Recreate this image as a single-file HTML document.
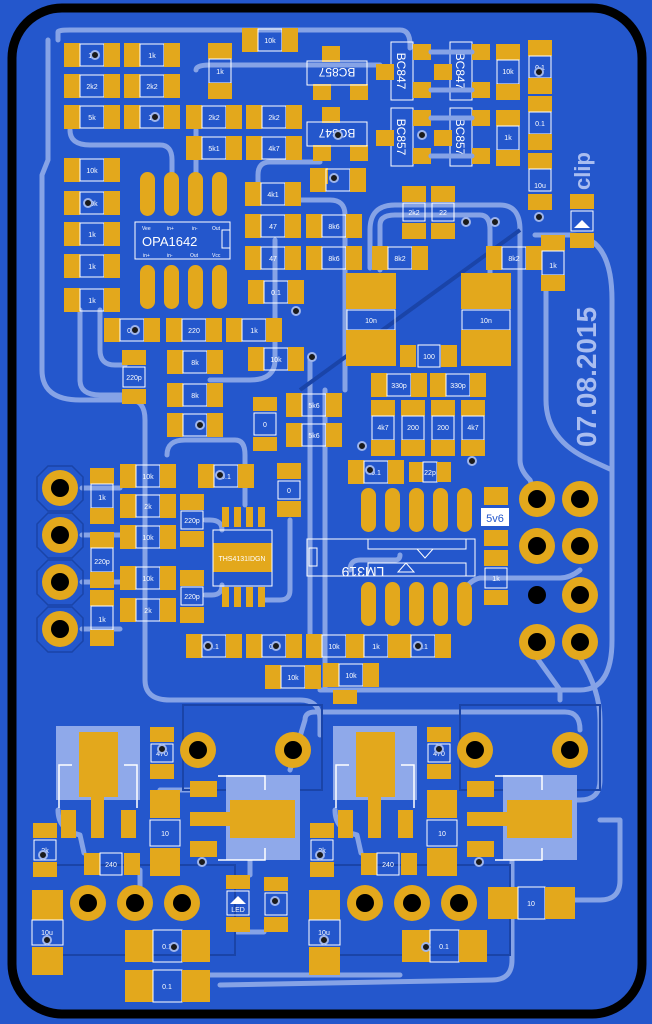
<!DOCTYPE html>
<html><head><meta charset="utf-8"><style>
html,body{margin:0;padding:0;background:#2457cc;}
svg{display:block}
.p{fill:#e3a81c}
.b{fill:none;stroke:#fff;stroke-width:1}
.t{fill:none;stroke:#86a3e6;stroke-width:5;stroke-linecap:round;stroke-linejoin:round}
.d{fill:none;stroke:#1a44a8;stroke-width:2}
.l{fill:#fff;font:7px "Liberation Sans",sans-serif;text-anchor:middle}
.v{fill:#1a1a1a;stroke:#9fb5ec;stroke-width:2}
.h{fill:#000}
.lt{fill:#8fa9ea}
</style></head><body>
<svg width="652" height="1024" viewBox="0 0 652 1024" xmlns="http://www.w3.org/2000/svg">
<defs>
<g id="rh"><rect class="p" width="16" height="24"/><rect class="b" x="16" y="1" width="24" height="22"/><rect class="p" x="40" width="16" height="24"/></g>
<g id="rv"><rect class="p" width="24" height="16"/><rect class="b" x="1" y="16" width="22" height="24"/><rect class="p" y="40" width="24" height="16"/></g>
<g id="ov"><rect class="p" width="15" height="44" rx="7.5"/></g>
<g id="sq"><rect class="p" width="18" height="16"/></g>
<g id="th"><circle class="p" r="18"/><circle class="h" r="9"/></g>
</defs>
<rect width="652" height="1024" fill="#2457cc"/>
<rect x="12" y="8" width="630" height="1006" rx="50" fill="#2457cc" stroke="#000" stroke-width="9"/>

<!-- traces -->
<path class="t" d="M58 40 L58 32 Q58 30 70 30 L400 30 Q410 30 410 45 L410 48"/>
<path class="t" d="M48 40 L48 160 L42 175 L42 370 Q42 400 80 400 L130 400 Q145 400 145 420 L145 680 Q145 700 170 700 L300 700 Q320 700 320 720 L320 735"/>
<path class="t" d="M70 130 Q70 145 90 145 L160 145 Q172 145 172 160 L172 190"/>
<path class="t" d="M196 130 L196 175"/>
<path class="t" d="M196 70 Q196 65 210 65 L380 65"/>
<path class="t" d="M320 162 L270 162 Q258 162 258 175 L258 185"/>
<path class="t" d="M300 200 L330 200 Q345 200 345 215 L345 360 L345 390"/>
<path class="t" d="M275 240 L275 360 Q275 380 250 380 L210 380"/>
<path class="t" d="M325 390 L325 690"/>
<path class="t" d="M310 360 L310 650"/>
<path class="t" d="M100 310 L100 350 Q100 365 115 365 L125 365"/>
<path class="t" d="M80 310 L80 380 Q80 395 100 395 L125 395"/>
<path class="t" d="M370 268 L370 230 Q370 205 395 205 L500 205 Q520 205 520 230 L520 460 Q520 470 530 480 L537 499"/>
<path class="t" d="M380 270 L380 225 Q380 215 395 215 L480 215 Q490 215 490 230 L490 290"/>
<path class="t" d="M535 235 L570 235 Q612 235 612 300 L612 640 Q612 690 580 690 L320 690"/>
<path class="t" d="M546 290 L546 400 Q546 440 590 460 L612 470"/>
<path class="t" d="M167 455 Q167 440 185 440 L235 440 Q245 440 245 455 L245 505"/>
<path class="t" d="M205 520 L210 520 Q222 520 222 530"/>
<path class="t" d="M205 595 L212 595 Q222 595 222 585"/>
<path class="t" d="M265 600 L280 600 Q290 600 290 590 L290 520"/>
<path class="t" d="M82 488 L120 488 M82 535 L120 535 M82 582 L120 582 M82 629 L120 629"/>
<path class="t" d="M350 570 Q350 560 360 560 L395 560 Q400 560 400 555"/>
<path class="t" d="M465 590 Q470 580 480 578 L560 578 Q570 578 580 570"/>
<path class="t" d="M580 658 Q600 690 600 720 L600 780 Q600 800 580 800 L530 800 Q512 800 512 820 L512 960 Q512 980 492 980 L220 985"/>
<path class="t" d="M537 658 L560 690 L560 700"/>
<path class="t" d="M600 820 L620 820 L620 880 Q620 900 600 900 L575 900"/>
<path class="t" d="M160 790 L205 790 M140 890 L140 870 M210 975 L400 975"/>
<path class="t" d="M58 810 Q58 830 80 835 L84 853"/>
<path class="t" d="M250 860 L250 875 M237 932 L264 932"/>
<path class="t" d="M335 810 Q335 830 357 835 L361 853"/>
<path class="t" d="M290 770 L305 720 Q305 712 315 712 L565 712 Q580 712 580 730"/>
<path class="d" d="M183 705 L322 705 L322 790 L183 790 Z M460 705 L600 705 L600 790 L460 790 Z"/>
<path class="d" d="M50 865 L235 865 L235 955 L50 955 M330 865 L510 865 L510 955 L330 955"/>
<path d="M300 390 L520 230" stroke="#1a44a8" stroke-width="4"/>

<!-- top left resistors -->
<use href="#rh" x="64" y="43"/><use href="#rh" x="124" y="43"/>
<use href="#rh" x="64" y="74"/><use href="#rh" x="124" y="74"/>
<use href="#rh" x="64" y="105"/><use href="#rh" x="124" y="105"/>
<use href="#rh" x="186" y="105"/><use href="#rh" x="246" y="105"/>
<use href="#rh" x="186" y="136"/><use href="#rh" x="246" y="136"/>
<use href="#rh" x="242" y="28"/>
<use href="#rv" x="208" y="43"/>
<use href="#rh" x="64" y="158"/><use href="#rh" x="64" y="191"/><use href="#rh" x="64" y="222"/><use href="#rh" x="64" y="254"/><use href="#rh" x="64" y="288"/>
<use href="#rh" x="245" y="182"/><use href="#rh" x="245" y="214"/><use href="#rh" x="245" y="246"/><use href="#rh" x="248" y="280"/>
<use href="#rh" x="306" y="214"/><use href="#rh" x="306" y="246"/>
<use href="#rh" x="372" y="246"/><use href="#rh" x="486" y="246"/>
<use href="#rh" x="104" y="318"/><use href="#rh" x="166" y="318"/><use href="#rh" x="226" y="318"/>
<g class="l">
<text x="92" y="58">1k</text><text x="152" y="58">1k</text><text x="92" y="89">2k2</text><text x="152" y="89">2k2</text>
<text x="92" y="120">5k</text><text x="152" y="120">1k</text><text x="214" y="120">2k2</text><text x="274" y="120">2k2</text>
<text x="214" y="151">5k1</text><text x="274" y="151">4k7</text><text x="270" y="43">10k</text><text x="220" y="74">1k</text>
<text x="92" y="173">10k</text><text x="92" y="206">10k</text><text x="92" y="237">1k</text><text x="92" y="269">1k</text><text x="92" y="303">1k</text>
<text x="273" y="197">4k1</text><text x="273" y="229">47</text><text x="273" y="261">47</text><text x="276" y="295">0.1</text>
<text x="334" y="229">8k6</text><text x="334" y="261">8k6</text><text x="400" y="261">8k2</text><text x="514" y="261">8k2</text>
<text x="132" y="333">0.1</text><text x="194" y="333">220</text><text x="254" y="333">1k</text>
</g>

<!-- OPA1642 -->
<use href="#ov" x="140" y="172"/><use href="#ov" x="164" y="172"/><use href="#ov" x="188" y="172"/><use href="#ov" x="212" y="172"/>
<use href="#ov" x="140" y="265"/><use href="#ov" x="164" y="265"/><use href="#ov" x="188" y="265"/><use href="#ov" x="212" y="265"/>
<rect class="b" x="135" y="222" width="95" height="37"/><rect class="b" x="222" y="230" width="8" height="18"/>
<text x="142" y="246" fill="#fff" style="font:13px 'Liberation Sans',sans-serif">OPA1642</text>
<g style="font:5px 'Liberation Sans',sans-serif" fill="#fff"><text x="142" y="230">Vee</text><text x="167" y="230">in+</text><text x="192" y="230">in-</text><text x="212" y="230">Out</text>
<text x="143" y="257">in+</text><text x="167" y="257">in-</text><text x="190" y="257">Out</text><text x="212" y="257">Vcc</text></g>

<!-- transistors -->
<use href="#sq" x="322" y="46"/><use href="#sq" x="313" y="84"/><use href="#sq" x="350" y="84"/>
<rect class="b" x="307" y="61" width="60" height="24"/><text x="337" y="78" fill="#fff" style="font:12px 'Liberation Sans',sans-serif" text-anchor="middle" transform="rotate(180 337 73)">BC857</text>
<use href="#sq" x="322" y="107"/><use href="#sq" x="313" y="145"/><use href="#sq" x="350" y="145"/>
<rect class="b" x="307" y="122" width="60" height="24"/><text x="337" y="139" fill="#fff" style="font:12px 'Liberation Sans',sans-serif" text-anchor="middle" transform="rotate(180 337 134)">BC847</text>
<use href="#sq" x="310" y="168"/><use href="#rh" x="310" y="168"/>
<g style="font:12px 'Liberation Sans',sans-serif" fill="#fff" text-anchor="middle">
<rect class="b" x="391" y="42" width="22" height="58"/><text transform="translate(397 71) rotate(90)">BC847</text>
<rect class="b" x="450" y="42" width="22" height="58"/><text transform="translate(456 71) rotate(90)">BC847</text>
<rect class="b" x="391" y="108" width="22" height="58"/><text transform="translate(397 137) rotate(90)">BC857</text>
<rect class="b" x="450" y="108" width="22" height="58"/><text transform="translate(456 137) rotate(90)">BC857</text>
</g>
<use href="#sq" x="413" y="44"/><use href="#sq" x="413" y="82"/><use href="#sq" x="376" y="64"/>
<use href="#sq" x="472" y="44"/><use href="#sq" x="472" y="82"/><use href="#sq" x="434" y="64"/>
<use href="#sq" x="413" y="110"/><use href="#sq" x="413" y="148"/><use href="#sq" x="376" y="130"/>
<use href="#sq" x="472" y="110"/><use href="#sq" x="472" y="148"/><use href="#sq" x="434" y="130"/>
<path class="t" d="M431 52 L472 52 M431 90 L472 90 M431 118 L472 118 M431 156 L472 156"/>
<use href="#rv" x="496" y="44"/><use href="#rv" x="496" y="110"/>
<rect class="p" x="528" y="40" width="24" height="16"/><rect class="b" x="529" y="56" width="22" height="22"/><rect class="p" x="528" y="78" width="24" height="16"/>
<rect class="p" x="528" y="96" width="24" height="16"/><rect class="b" x="529" y="112" width="22" height="22"/><rect class="p" x="528" y="134" width="24" height="16"/>
<rect class="p" x="528" y="153" width="24" height="16"/><rect class="b" x="529" y="169" width="22" height="22"/><rect class="p" x="528" y="194" width="24" height="16"/>
<g class="l"><text x="508" y="74">10k</text><text x="508" y="140">1k</text><text x="540" y="70">0.1</text><text x="540" y="126">0.1</text><text x="540" y="188">10u</text></g>
<!-- clip LED -->
<rect class="p" x="570" y="194" width="24" height="15"/><rect class="b" x="571" y="211" width="22" height="20"/><path d="M574 228 L590 228 L582 220 Z" fill="#fff"/><rect class="p" x="570" y="233" width="24" height="15"/>
<use href="#rv" x="541" y="235"/><text class="l" x="553" y="268">1k</text>
<text transform="translate(590 190) rotate(-90)" fill="#a9bdf0" style="font:bold 22px 'Liberation Sans',sans-serif">clip</text>
<text transform="translate(596 447) rotate(-90)" fill="#a9bdf0" style="font:bold 28px 'Liberation Sans',sans-serif">07.08.2015</text>

<!-- 2k2 22 -->
<rect class="p" x="402" y="186" width="24" height="16"/><rect class="b" x="403" y="203" width="22" height="18"/><rect class="p" x="402" y="223" width="24" height="16"/>
<rect class="p" x="431" y="186" width="24" height="16"/><rect class="b" x="432" y="203" width="22" height="18"/><rect class="p" x="431" y="223" width="24" height="16"/>
<g class="l"><text x="414" y="215">2k2</text><text x="443" y="215">22</text></g>

<!-- big caps -->
<rect class="p" x="346" y="273" width="50" height="36"/><rect class="b" x="347" y="310" width="48" height="20"/><rect class="p" x="346" y="330" width="50" height="36"/>
<rect class="p" x="461" y="273" width="50" height="36"/><rect class="b" x="462" y="310" width="48" height="20"/><rect class="p" x="461" y="330" width="50" height="36"/>
<g class="l"><text x="371" y="323">10n</text><text x="486" y="323">10n</text></g>
<rect class="p" x="400" y="345" width="16" height="22"/><rect class="b" x="418" y="345" width="22" height="22"/><rect class="p" x="441" y="345" width="16" height="22"/><text class="l" x="429" y="359">100</text>

<use href="#rh" x="371" y="373"/><use href="#rh" x="430" y="373"/>
<use href="#rv" x="371" y="400"/><use href="#rv" x="401" y="400"/><use href="#rv" x="431" y="400"/><use href="#rv" x="461" y="400"/>
<g class="l"><text x="399" y="388">330p</text><text x="458" y="388">330p</text><text x="383" y="430">4k7</text><text x="413" y="430">200</text><text x="443" y="430">200</text><text x="473" y="430">4k7</text></g>
<use href="#rh" x="348" y="460"/><rect class="p" x="409" y="462" width="14" height="20"/><rect class="b" x="423" y="462" width="14" height="20"/><rect class="p" x="437" y="462" width="14" height="20"/>
<g class="l"><text x="376" y="475">0.1</text><text x="430" y="475">22p</text></g>

<!-- LM319 -->
<use href="#ov" x="361" y="488"/><use href="#ov" x="385" y="488"/><use href="#ov" x="409" y="488"/><use href="#ov" x="433" y="488"/><use href="#ov" x="457" y="488"/>
<use href="#ov" x="361" y="582"/><use href="#ov" x="385" y="582"/><use href="#ov" x="409" y="582"/><use href="#ov" x="433" y="582"/><use href="#ov" x="457" y="582"/>
<rect class="b" x="307" y="539" width="168" height="37"/><rect class="b" x="309" y="548" width="8" height="18"/>
<text transform="translate(363 567) rotate(180)" fill="#fff" style="font:14px 'Liberation Sans',sans-serif" text-anchor="middle">LM319</text>
<rect class="b" x="368" y="539" width="98" height="10"/><rect class="b" x="368" y="563" width="98" height="13"/>
<path d="M417 549 L433 549 L425 558 Z" class="b"/><path d="M398 572 L414 572 L406 563 Z" class="b"/>
<!-- zener -->
<rect class="p" x="484" y="487" width="24" height="18"/><rect x="481" y="508" width="28" height="18" fill="#fff"/><text x="495" y="522" fill="#2457cc" style="font:11px 'Liberation Sans',sans-serif" text-anchor="middle">5v6</text>
<rect class="p" x="484" y="530" width="24" height="16"/><rect class="p" x="484" y="550" width="24" height="16"/><rect class="b" x="485" y="568" width="22" height="20"/><rect class="p" x="484" y="590" width="24" height="15"/><text class="l" x="496" y="581">1k</text>

<!-- right header -->
<use href="#th" x="537" y="499"/><use href="#th" x="580" y="499"/><use href="#th" x="537" y="546"/><use href="#th" x="580" y="546"/>
<circle class="h" cx="537" cy="595" r="9"/><use href="#th" x="580" y="595"/><use href="#th" x="537" y="642"/><use href="#th" x="580" y="642"/>

<!-- mid-left -->
<rect class="p" x="122" y="350" width="24" height="15"/><rect class="b" x="123" y="367" width="22" height="20"/><rect class="p" x="122" y="389" width="24" height="15"/><text class="l" x="134" y="380">220p</text>
<use href="#rh" x="167" y="350"/><use href="#rh" x="167" y="383"/><use href="#rh" x="167" y="413"/>
<use href="#rh" x="248" y="347"/><use href="#rh" x="286" y="393"/><use href="#rh" x="286" y="423"/>
<rect class="p" x="253" y="397" width="24" height="14"/><rect class="b" x="254" y="413" width="22" height="22"/><rect class="p" x="253" y="437" width="24" height="14"/>
<g class="l"><text x="195" y="365">8k</text><text x="195" y="398">8k</text><text x="276" y="362">10k</text><text x="314" y="408">5k6</text><text x="314" y="438">5k6</text><text x="265" y="427">0</text></g>

<!-- left header -->
<g fill="none" stroke="#1a44a8" stroke-width="1.5">
<path d="M48 466 L72 466 L83 477 L83 500 L72 511 L48 511 L37 500 L37 477 Z"/>
<path d="M48 513 L72 513 L83 524 L83 547 L72 558 L48 558 L37 547 L37 524 Z"/>
<path d="M48 560 L72 560 L83 571 L83 594 L72 605 L48 605 L37 594 L37 571 Z"/>
<path d="M48 607 L72 607 L83 618 L83 641 L72 652 L48 652 L37 641 L37 618 Z"/></g>
<use href="#th" x="60" y="488"/><use href="#th" x="60" y="535"/><use href="#th" x="60" y="582"/><use href="#th" x="60" y="629"/>
<use href="#rv" x="90" y="468"/><use href="#rv" x="90" y="532"/><use href="#rv" x="90" y="590"/>
<use href="#rh" x="120" y="464"/><use href="#rh" x="120" y="494"/><use href="#rh" x="120" y="525"/><use href="#rh" x="120" y="566"/><use href="#rh" x="120" y="598"/>
<rect class="p" x="180" y="494" width="24" height="16"/><rect class="b" x="181" y="511" width="22" height="18"/><rect class="p" x="180" y="531" width="24" height="16"/>
<rect class="p" x="180" y="570" width="24" height="16"/><rect class="b" x="181" y="587" width="22" height="18"/><rect class="p" x="180" y="607" width="24" height="16"/>
<g class="l"><text x="102" y="500">1k</text><text x="102" y="564">220p</text><text x="102" y="622">1k</text>
<text x="148" y="479">10k</text><text x="148" y="509">2k</text><text x="148" y="540">10k</text><text x="148" y="581">10k</text><text x="148" y="613">2k</text>
<text x="192" y="523">220p</text><text x="192" y="599">220p</text></g>
<use href="#rh" x="198" y="464"/><text class="l" x="226" y="479">0.1</text>
<rect class="p" x="277" y="463" width="24" height="16"/><rect class="b" x="278" y="481" width="22" height="18"/><rect class="p" x="277" y="501" width="24" height="16"/><text class="l" x="289" y="493">0</text>
<!-- THS4131 -->
<g class="p"><rect x="222" y="507" width="7" height="20"/><rect x="234" y="507" width="7" height="20"/><rect x="246" y="507" width="7" height="20"/><rect x="258" y="507" width="7" height="20"/>
<rect x="222" y="587" width="7" height="20"/><rect x="234" y="587" width="7" height="20"/><rect x="246" y="587" width="7" height="20"/><rect x="258" y="587" width="7" height="20"/>
<rect x="213" y="543" width="59" height="29"/></g>
<rect class="b" x="213" y="530" width="59" height="56"/>
<text x="242" y="561" fill="#fff" style="font:7px 'Liberation Sans',sans-serif" text-anchor="middle">THS4131IDGN</text>
<use href="#rh" x="186" y="634"/><use href="#rh" x="246" y="634"/><use href="#rh" x="306" y="634"/><use href="#rh" x="265" y="665"/><use href="#rh" x="323" y="663"/>
<use href="#rh" x="348" y="634"/><use href="#rh" x="395" y="634"/>
<rect class="p" x="333" y="690" width="24" height="14"/>
<g class="l"><text x="214" y="649">0.1</text><text x="274" y="649">0.1</text><text x="334" y="649">10k</text><text x="293" y="680">10k</text><text x="351" y="678">10k</text><text x="376" y="649">1k</text><text x="423" y="649">0.1</text></g>

<!-- regulator blocks -->
<g id="reg">
<rect class="lt" x="56" y="726" width="84" height="74"/><rect class="p" x="79" y="732" width="39" height="65"/><rect class="p" x="91" y="795" width="13" height="43"/>
<rect class="p" x="61" y="810" width="15" height="28"/><rect class="p" x="121" y="810" width="15" height="28"/>
<path d="M59 808 L59 765 L72 765 M137 808 L137 765 L124 765" stroke="#fff" stroke-width="1.5" fill="none"/>
<rect class="p" x="150" y="727" width="24" height="15"/><rect class="b" x="151" y="744" width="22" height="18"/><rect class="p" x="150" y="764" width="24" height="15"/>
<rect class="p" x="150" y="790" width="30" height="28"/><rect class="b" x="150" y="820" width="30" height="26"/><rect class="p" x="150" y="848" width="30" height="28"/>
<rect class="lt" x="226" y="775" width="74" height="85"/><rect class="p" x="230" y="800" width="65" height="38"/><rect class="p" x="190" y="812" width="45" height="14"/>
<rect class="p" x="190" y="781" width="27" height="16"/><rect class="p" x="190" y="841" width="27" height="16"/>
<path d="M218 776 L265 776 L265 790 M218 860 L265 860 L265 848" stroke="#fff" stroke-width="1.5" fill="none"/>
<rect class="p" x="84" y="853" width="16" height="22"/><rect class="b" x="100" y="853" width="22" height="22"/><rect class="p" x="124" y="853" width="16" height="22"/>
<rect class="p" x="33" y="823" width="24" height="15"/><rect class="b" x="34" y="840" width="22" height="20"/><rect class="p" x="33" y="862" width="24" height="15"/>
<rect class="p" x="32" y="890" width="31" height="30"/><rect class="b" x="32" y="920" width="31" height="25"/><rect class="p" x="32" y="947" width="31" height="28"/>
<use href="#th" x="88" y="903"/><use href="#th" x="135" y="903"/><use href="#th" x="182" y="903"/>
<rect class="p" x="125" y="930" width="28" height="32"/><rect class="b" x="153" y="930" width="29" height="32"/><rect class="p" x="182" y="930" width="28" height="32"/>
<use href="#th" x="198" y="750"/><use href="#th" x="293" y="750"/>
<g class="l"><text x="162" y="756">470</text><text x="165" y="836">10</text><text x="111" y="867">240</text><text x="45" y="853">2k</text><text x="47" y="935">10u</text><text x="167" y="949">0.1</text></g>
</g>
<use href="#reg" x="277" y="0"/>
<rect class="p" x="125" y="970" width="28" height="32"/><rect class="b" x="153" y="970" width="29" height="32"/><rect class="p" x="182" y="970" width="28" height="32"/><text class="l" x="167" y="989">0.1</text>
<rect class="p" x="226" y="875" width="24" height="14"/><rect class="b" x="227" y="891" width="22" height="24"/><path d="M230 904 L246 904 L238 896 Z" fill="#fff"/><text class="l" x="238" y="912">LED</text><rect class="p" x="226" y="917" width="24" height="15"/>
<rect class="p" x="264" y="877" width="24" height="14"/><rect class="b" x="265" y="893" width="22" height="22"/><rect class="p" x="264" y="917" width="24" height="15"/>
<rect class="p" x="488" y="887" width="30" height="32"/><rect class="b" x="518" y="887" width="27" height="32"/><rect class="p" x="545" y="887" width="30" height="32"/><text class="l" x="531" y="906">10</text>

<!-- vias -->
<g class="v">
<circle cx="95" cy="55" r="4"/><circle cx="155" cy="117" r="4"/><circle cx="88" cy="203" r="4"/><circle cx="296" cy="311" r="4"/><circle cx="334" cy="178" r="4"/>
<circle cx="338" cy="135" r="4"/><circle cx="422" cy="135" r="4"/><circle cx="539" cy="72" r="4"/><circle cx="539" cy="217" r="4"/><circle cx="466" cy="222" r="4"/><circle cx="495" cy="222" r="4"/>
<circle cx="135" cy="330" r="4"/><circle cx="312" cy="357" r="4"/><circle cx="362" cy="446" r="4"/><circle cx="472" cy="461" r="4"/><circle cx="370" cy="470" r="4"/>
<circle cx="200" cy="425" r="4"/><circle cx="220" cy="475" r="4"/><circle cx="208" cy="646" r="4"/><circle cx="276" cy="646" r="4"/><circle cx="418" cy="646" r="4"/>
<circle cx="162" cy="749" r="4"/><circle cx="439" cy="749" r="4"/><circle cx="43" cy="855" r="4"/><circle cx="320" cy="855" r="4"/><circle cx="47" cy="940" r="4"/><circle cx="324" cy="940" r="4"/>
<circle cx="174" cy="947" r="4"/><circle cx="426" cy="947" r="4"/><circle cx="202" cy="862" r="4"/><circle cx="479" cy="862" r="4"/><circle cx="275" cy="901" r="4"/>
</g>
</svg>
</body></html>
